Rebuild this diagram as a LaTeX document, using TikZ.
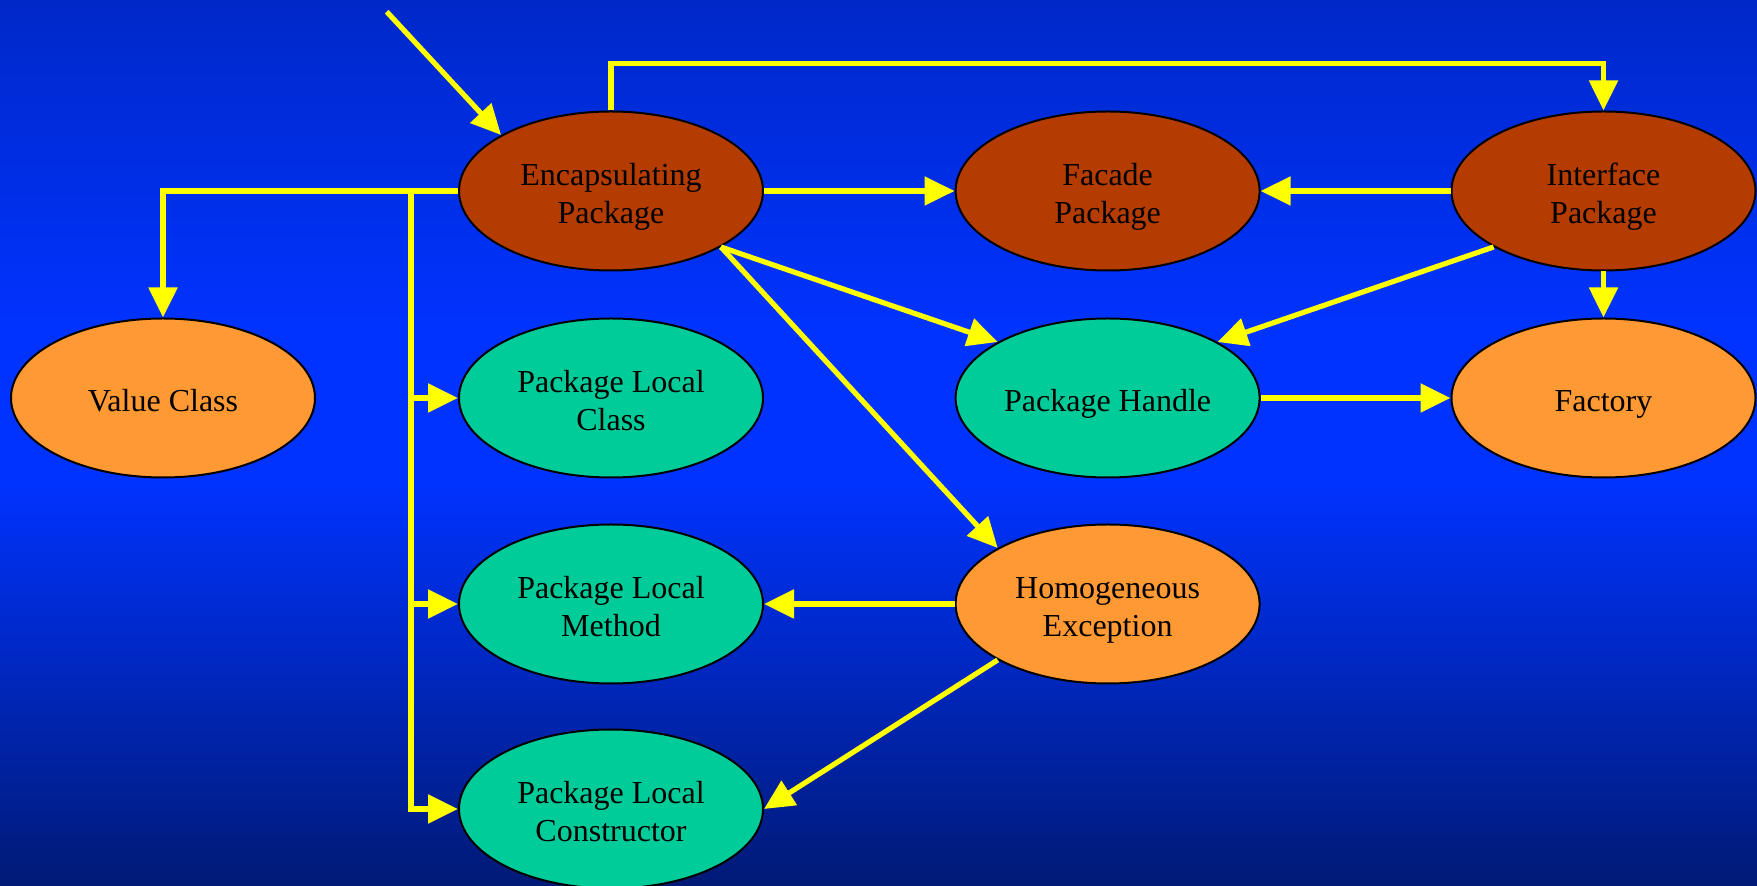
\documentclass[tikz,border=0pt]{standalone}
\usepackage{fontspec}
\setmainfont{Liberation Serif}
\usetikzlibrary{shapes.geometric,arrows.meta}

\definecolor{bgtop}{RGB}{0,40,200}
\definecolor{bgmid}{RGB}{0,51,255}
\definecolor{bgbot}{RGB}{0,26,118}
\definecolor{rust}{RGB}{180,60,0}
\definecolor{amber}{RGB}{255,153,51}
\definecolor{jade}{RGB}{0,204,153}
\definecolor{link}{RGB}{255,255,0}

% centred label text, drawn a little below the middle of its ellipse
% (the box keeps its natural size, so the ellipse is not affected)
\newcommand{\blobtext}[1]{\raisebox{-2.8pt}[\height][\depth]{\begin{tabular}{@{}c@{}}#1\end{tabular}}}

\tikzset{
  blob/.style={ellipse, draw=black, line width=1pt, inner sep=0pt,
    minimum width=152pt, minimum height=79.5pt,
    font=\fontsize{16}{19}\selectfont, text=black},
  pkg/.style={blob, fill=rust},
  warm/.style={blob, fill=amber},
  local/.style={blob, fill=jade},
  arr/.style={draw=link, line width=2.6pt,
    -{Triangle[length=15pt,width=14pt]}}
}

\begin{document}
\begin{tikzpicture}[x=0.5pt, y=-0.5pt]
  % backdrop: vertical blue gradient
  \useasboundingbox (0,0) rectangle (1757,886);
  \shade[top color=bgtop, bottom color=bgmid] (0,0) rectangle (1757,330);
  \fill[bgmid] (0,329) rectangle (1757,481);
  \shade[top color=bgmid, bottom color=bgbot] (0,480) rectangle (1757,886);

  % nodes
  \node[pkg]   (enc)  at (611,191)    {\blobtext{Encapsulating\\Package}};
  \node[pkg]   (fac)  at (1107.6,191) {\blobtext{Facade\\Package}};
  \node[pkg]   (intf) at (1603.5,191) {\blobtext{Interface\\Package}};
  \node[warm]  (vc)   at (163,398)    {\blobtext{Value Class}};
  \node[local] (plc)  at (611,398)    {\blobtext{Package Local\\Class}};
  \node[local] (ph)   at (1107.6,398) {\blobtext{Package Handle}};
  \node[warm]  (fa)   at (1603.5,398) {\blobtext{Factory}};
  \node[local] (plm)  at (611,604)    {\blobtext{Package Local\\Method}};
  \node[warm]  (he)   at (1107.6,604) {\blobtext{Homogeneous\\Exception}};
  \node[local] (plco) at (611,809)    {\blobtext{Package Local\\Constructor}};

  % routing points
  \coordinate (entry) at (386.7,11.7);
  \coordinate (topbend) at (611,63.5);
  \coordinate (junc) at (411,191);

  % connectors
  \draw[arr] (entry) -- (enc.153);
  \draw[arr] (enc.north) -- (topbend) -| (intf.north);
  \draw[arr] (enc.west) -| (vc.north);
  \draw[arr] (junc) |- (plco.west);
  \draw[arr] (junc) |- (plm.west);
  \draw[arr] (junc) |- (plc.west);
  \draw[arr] (enc.east) -- (fac.west);
  \draw[arr] (intf.west) -- (fac.east);
  \draw[arr] (enc.-27) -- (ph.153);
  \draw[arr] (enc.-27) -- (he.153);
  \draw[arr] (intf.-153) -- (ph.27);
  \draw[arr] (intf.south) -- (fa.north);
  \draw[arr] (ph.east) -- (fa.west);
  \draw[arr] (he.west) -- (plm.east);
  \draw[arr] (he.-153) -- (plco.east);
\end{tikzpicture}
\end{document}
